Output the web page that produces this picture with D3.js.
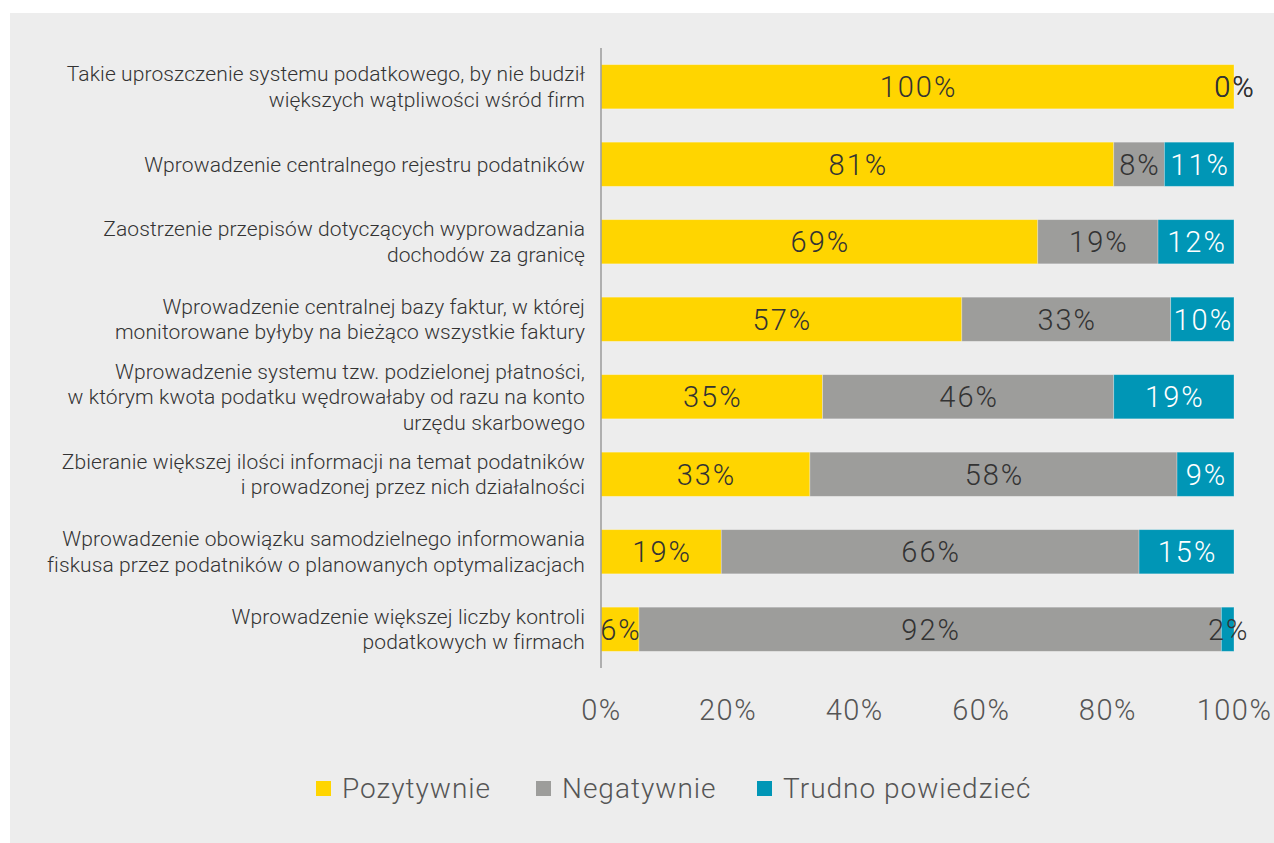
<!DOCTYPE html>
<html>
<head>
<meta charset="utf-8">
<script src="https://cdn.jsdelivr.net/npm/d3@7"></script>
<style>
  html, body { margin: 0; padding: 0; background: #fff; }
  svg text { font-family: "Roboto", "Open Sans", sans-serif; font-weight: 300; }
</style>
</head>
<body>
<div id="chart"></div>
<script>
const categories = [
    ["Takie uproszczenie systemu podatkowego, by nie budził", "większych wątpliwości wśród firm"],
    ["Wprowadzenie centralnego rejestru podatników"],
    ["Zaostrzenie przepisów dotyczących wyprowadzania", "dochodów za granicę"],
    ["Wprowadzenie centralnej bazy faktur, w której", "monitorowane byłyby na bieżąco wszystkie faktury"],
    ["Wprowadzenie systemu tzw. podzielonej płatności,", "w którym kwota podatku wędrowałaby od razu na konto", "urzędu skarbowego"],
    ["Zbieranie większej ilości informacji na temat podatników", "i prowadzonej przez nich działalności"],
    ["Wprowadzenie obowiązku samodzielnego informowania", "fiskusa przez podatników o planowanych optymalizacjach"],
    ["Wprowadzenie większej liczby kontroli", "podatkowych w firmach"]
];
const pozytywnie = [100, 81, 69, 57, 35, 33, 19, 6];
const negatywnie = [0, 8, 19, 33, 46, 58, 66, 92];
const trudno = [0, 11, 12, 10, 19, 9, 15, 2];
const seriesNames = ["Pozytywnie", "Negatywnie", "Trudno powiedzieć"];
const seriesColors = ["#FFD500", "#9D9D9B", "#0096B6"];
const xTicks = [0, 20, 40, 60, 80, 100];

const width = 1274;
const height = 843;
const margin = { top: 48, right: 40, bottom: 175, left: 601 };

const svg = d3.select("#chart")
    .append("svg")
    .attr("width", width)
    .attr("height", height);

// panel background
svg.append("rect")
    .attr("x", 10)
    .attr("y", 13)
    .attr("width", width - 10)
    .attr("height", height - 13)
    .attr("fill", "#EDEDED");

const rows = categories.map((c, i) => ({
    idx: i,
    lines: c,
    Pozytywnie: pozytywnie[i],
    Negatywnie: negatywnie[i],
    "Trudno powiedzieć": trudno[i]
}));

const stacked = d3.stack().keys(seriesNames)(rows);

const x = d3.scaleLinear()
    .domain([0, 100])
    .range([margin.left, 1234]);

const y = d3.scaleBand()
    .domain(rows.map(d => d.idx))
    .range([margin.top, height - margin.bottom])
    .paddingInner(0.43)
    .paddingOuter(0.215);

const color = d3.scaleOrdinal().domain(seriesNames).range(seriesColors);

// bars
const layers = svg.selectAll("g.layer")
    .data(stacked)
    .enter()
    .append("g")
    .attr("class", "layer")
    .attr("fill", d => color(d.key));

layers.selectAll("rect")
    .data(d => d)
    .enter()
    .append("rect")
    .attr("x", d => x(d[0]))
    .attr("y", d => y(d.data.idx))
    .attr("width", d => x(d[1]) - x(d[0]))
    .attr("height", y.bandwidth())
    .attr("stroke", "rgba(255,255,255,0.35)")
    .attr("stroke-width", 0.8);

// value labels
stacked.forEach(layer => {
    svg.append("g")
        .selectAll("text")
        .data(layer)
        .enter()
        .append("text")
        .attr("x", d => (x(d[0]) + x(d[1])) / 2 + 1)
        .attr("y", d => y(d.data.idx) + y.bandwidth() / 2)
        .attr("dy", "0.36em")
        .attr("text-anchor", "middle")
        .attr("font-size", 29)
        .attr("letter-spacing", 2)
        .attr("fill", d => (layer.key === "Trudno powiedzieć" && d.data[layer.key] >= 5) ? "#ffffff" : "#333333")
        .text(d => d.data[layer.key] + "%")
        .filter(d => layer.key === "Pozytywnie" && d.data[layer.key] === 0)
        .remove();
});

// vertical axis line
svg.append("line")
    .attr("x1", margin.left)
    .attr("x2", margin.left)
    .attr("y1", margin.top)
    .attr("y2", height - margin.bottom)
    .attr("stroke", "#9a9a9a")
    .attr("stroke-width", 1.5);

// category labels
const catG = svg.append("g");
rows.forEach(r => {
    const lh = 25.5;
    const cy = y(r.idx) + y.bandwidth() / 2;
    const t = catG.append("text")
        .attr("text-anchor", "end")
        .attr("font-size", 21)
        .attr("letter-spacing", 0.1)
        .attr("fill", "#333");
    r.lines.forEach((ln, k) => {
        t.append("tspan")
            .attr("x", 585)
            .attr("y", cy + (k - (r.lines.length - 1) / 2) * lh)
            .attr("dy", "0.35em")
            .text(ln);
    });
});

// x axis
const xAxis = svg.append("g")
    .attr("transform", `translate(0, ${height - margin.bottom})`)
    .call(d3.axisBottom(x).tickValues(xTicks).tickFormat(d => d + "%").tickSize(0).tickPadding(31));
xAxis.select(".domain").remove();
xAxis.selectAll("text")
    .attr("font-size", 29)
    .attr("letter-spacing", 1.5)
    .attr("fill", "#555")
    .style("font-family", "Roboto, sans-serif")
    .style("font-weight", 300);

// legend
const legendX = [316, 536, 757];
const legend = svg.append("g");
seriesNames.forEach((name, i) => {
    legend.append("rect")
        .attr("x", legendX[i])
        .attr("y", 781)
        .attr("width", 15)
        .attr("height", 15)
        .attr("fill", color(name));
    legend.append("text")
        .attr("x", legendX[i] + 26)
        .attr("y", 788)
        .attr("dy", "0.36em")
        .attr("font-size", 28)
        .attr("letter-spacing", 1)
        .attr("fill", "#555")
        .text(name);
});
</script>
</body>
</html>
